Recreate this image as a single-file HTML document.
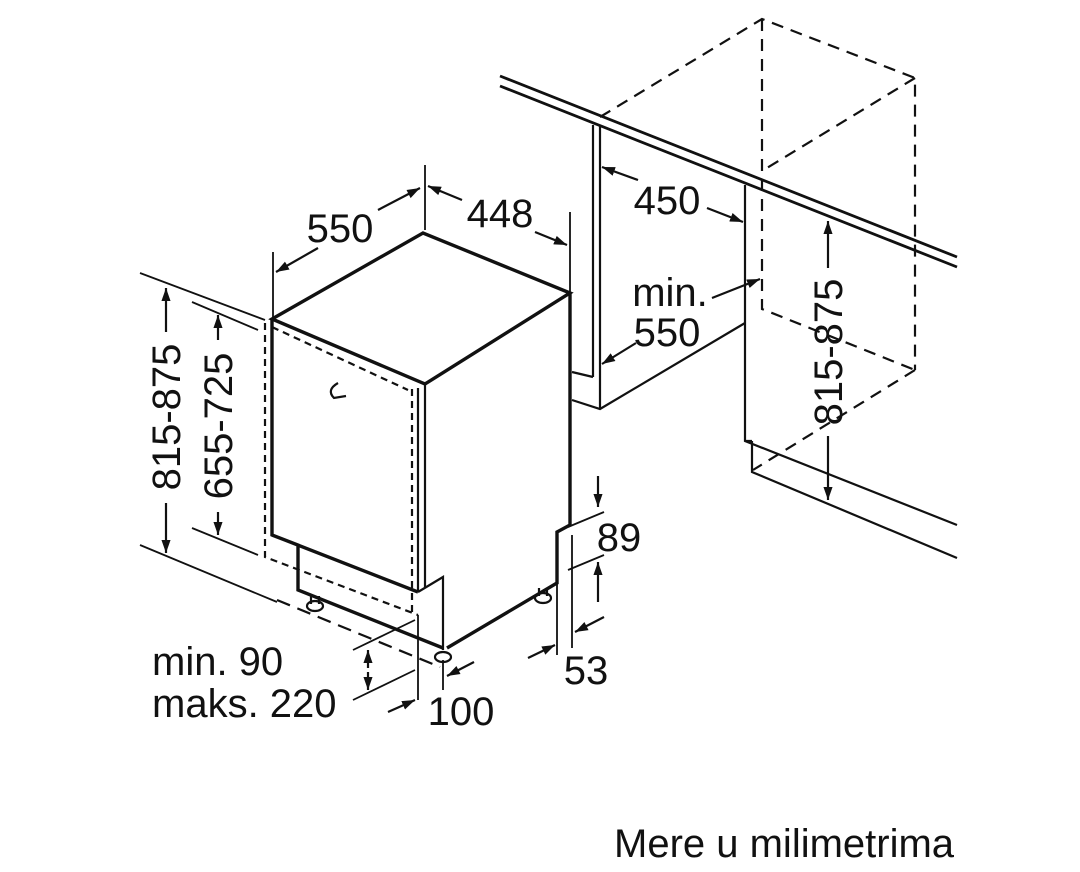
<!DOCTYPE html>
<html><head><meta charset="utf-8"><style>
html,body{margin:0;padding:0;background:#fff;}
svg{display:block;}
text{font-family:"Liberation Sans",Arial,sans-serif;fill:#111;}
</style></head><body>
<svg width="1080" height="872" viewBox="0 0 1080 872" xmlns="http://www.w3.org/2000/svg">
<defs>
<marker id="a" viewBox="0 0 10 10" refX="10" refY="5" markerWidth="13" markerHeight="13" orient="auto-start-reverse" markerUnits="userSpaceOnUse"><path d="M0,1.5 L10,5 L0,8.5 z" fill="#111"/></marker>
</defs>
<g stroke="#111" fill="none" stroke-width="2.2">
<g stroke-dasharray="12,8">
<path d="M600,117 L762,19 L915,78 L915,370 M762,19 L762,309 L915,370 M915,78 L762,171 M915,370 L753,470"/>
</g>
<path d="M500,76 L957,257 M500,86 L957,267" stroke-width="2.8"/>
<path d="M593,125 L593,377 M600,125 L600,409 M572,372 L593,377 M572,400 L600,409 L745,323"/>
<path d="M745,185 L745,441 L957,525 M752,441 L752,472 L957,558 M745,441 L752,441"/>
<path d="M272,319 L423,233 L570,293 L425,384 Z" stroke-width="3.4"/>
<path d="M272,319 L272,535 L418,592 M272,535 L298,545 L298,590 L443,648" stroke-width="3.4"/>
<path d="M570,293 L570,525 L557,532 L557,583 L447,648" stroke-width="3.4"/>
<path d="M425,384 L425,588 M418,388 L418,592 M418,592 L443,577 L443,650"/>
<g stroke-dasharray="7,5">
<path d="M265,323 L265,557 L418,615 M412,389 L412,613 M272,327 L408,390"/>
<path d="M277,600 L440,667" stroke-dasharray="14,8"/>
</g>
<ellipse cx="315" cy="606" rx="8" ry="5"/><path d="M311,596 L311,604 M319,596 L319,604"/>
<ellipse cx="543" cy="598" rx="8" ry="5"/><path d="M539,588 L539,596 M547,588 L547,596"/>
<ellipse cx="443" cy="657" rx="8" ry="5"/>
<path d="M338,383 Q326,390 334,398 L346,396"/>
<path d="M140,273 L265,320 M192,302 L258,330 M140,545 L277,602 M192,528 L258,555" stroke-width="1.8"/>
<path d="M166,332 L166,288" marker-end="url(#a)"/>
<path d="M166,503 L166,553" marker-end="url(#a)"/>
<path d="M218,340 L218,315" marker-end="url(#a)"/>
<path d="M218,512 L218,535" marker-end="url(#a)"/>
<path d="M273,252 L273,319 M425,165 L425,230 M570,212 L570,293" stroke-width="1.8"/>
<path d="M318,248 L276,272" marker-end="url(#a)"/>
<path d="M378,210 L420,188" marker-end="url(#a)"/>
<path d="M462,200 L428,186" marker-end="url(#a)"/>
<path d="M535,232 L567,245" marker-end="url(#a)"/>
<path d="M638,180 L602,167" marker-end="url(#a)"/>
<path d="M707,208 L743,222" marker-end="url(#a)"/>
<path d="M712,298 L760,279" marker-end="url(#a)"/>
<path d="M636,343 L602,364" marker-end="url(#a)"/>
<path d="M828,268 L828,221" marker-end="url(#a)"/>
<path d="M828,436 L828,500" marker-end="url(#a)"/>
<path d="M568,527 L604,512 M568,570 L604,555 M572,535 L572,648 M557,583 L557,655" stroke-width="1.8"/>
<path d="M598,476 L598,507" marker-end="url(#a)"/>
<path d="M598,602 L598,562" marker-end="url(#a)"/>
<path d="M604,617 L575,632" marker-end="url(#a)"/>
<path d="M528,658 L555,645" marker-end="url(#a)"/>
<path d="M418,615 L418,700 M443,660 L443,690" stroke-width="1.8"/>
<path d="M474,662 L447,676" marker-end="url(#a)"/>
<path d="M388,712 L415,700" marker-end="url(#a)"/>
<path d="M353,650 L415,620 M353,700 L415,670" stroke-width="1.8"/>
<path d="M368,668 L368,650" marker-end="url(#a)"/>
<path d="M368,672 L368,690" marker-end="url(#a)"/>
</g>
<g font-size="40">
<text x="340" y="242" text-anchor="middle">550</text>
<text x="500" y="227" text-anchor="middle">448</text>
<text x="667" y="214" text-anchor="middle">450</text>
<text x="670" y="306" text-anchor="middle">min.</text>
<text x="667" y="346" text-anchor="middle">550</text>
<text x="619" y="551" text-anchor="middle">89</text>
<text x="586" y="684" text-anchor="middle">53</text>
<text x="461" y="725" text-anchor="middle">100</text>
<text x="152" y="675">min. 90</text>
<text x="152" y="717">maks. 220</text>
<text transform="translate(180,417) rotate(-90)" text-anchor="middle">815-875</text>
<text transform="translate(232,426) rotate(-90)" text-anchor="middle">655-725</text>
<text transform="translate(842,352) rotate(-90)" text-anchor="middle">815-875</text>
<text x="614" y="857" font-size="40">Mere u milimetrima</text>
</g>
</svg>
</body></html>
